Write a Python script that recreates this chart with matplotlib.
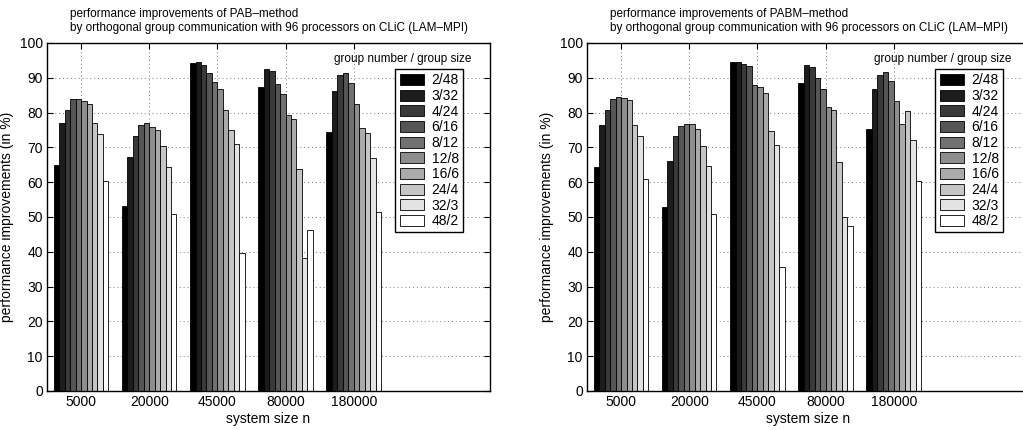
import matplotlib
matplotlib.use("Agg")
import matplotlib.pyplot as plt
import numpy as np

plt.rcParams["font.family"] = ["Liberation Sans", "DejaVu Sans"]

# system sizes on the x axis
sizes = ["5000", "20000", "45000", "80000", "180000"]

# group number / group size configurations (one bar per configuration)
groups = ["2/48", "3/32", "4/24", "6/16", "8/12", "12/8", "16/6", "24/4", "32/3", "48/2"]

# improvements in % for PAB, rows = system size, columns = configuration
pab = [
    [64.8, 77.0, 80.8, 84.0, 84.0, 83.2, 82.5, 77.0, 73.8, 60.3],
    [53.3, 67.1, 73.2, 76.4, 77.0, 76.0, 75.0, 70.5, 64.5, 51.0],
    [94.2, 94.5, 93.8, 91.5, 88.7, 86.7, 80.7, 75.1, 71.0, 39.6],
    [87.4, 92.4, 92.0, 88.3, 85.3, 79.4, 78.1, 63.9, 38.1, 46.4],
    [74.5, 86.1, 90.8, 91.4, 88.6, 82.4, 75.7, 74.1, 67.0, 51.4],
]

# improvements in % for PABM
pabm = [
    [64.3, 76.4, 80.7, 84.0, 84.6, 84.3, 83.5, 76.5, 73.4, 61.0],
    [52.9, 66.2, 73.3, 76.1, 76.8, 76.8, 75.3, 70.3, 64.6, 51.0],
    [94.5, 94.6, 93.9, 93.3, 88.0, 87.5, 85.7, 74.7, 70.8, 35.6],
    [88.5, 93.6, 93.1, 89.9, 86.9, 81.7, 80.8, 65.9, 50.0, 47.4],
    [75.4, 86.7, 90.9, 91.7, 89.0, 83.2, 76.7, 80.4, 72.0, 60.3],
]

titles = ["performance improvements of PAB\u2013method\n"
          "by orthogonal group communication with 96 processors on CLiC (LAM\u2013MPI)",
          "performance improvements of PABM\u2013method\n"
          "by orthogonal group communication with 96 processors on CLiC (LAM\u2013MPI)"]

W, H = 1023, 430
fig = plt.figure(figsize=(W / 100, H / 100), dpi=100)

# gray(10) colormap, black to white
shades = [str(v) for v in np.linspace(0, 1, len(groups))]

def draw(ax, data, title):
    data = np.array(data)
    x = np.arange(1, len(sizes) + 1)
    n = len(groups)
    w = 0.8 / n
    for j in range(n):
        ax.bar(x - 0.4 + w * (j + 0.5), data[:, j], width=w,
               color=shades[j], edgecolor="black", linewidth=0.6,
               label=groups[j], zorder=2)
    ax.set_xlim(0.5, 7.0)
    ax.set_ylim(0, 100)
    ax.set_xticks(x)
    ax.set_xticklabels(sizes)
    ax.set_yticks(np.arange(0, 101, 10))
    ax.grid(True, linestyle=(0, (1, 3)), color="#777777", linewidth=0.7, zorder=0)
    ax.set_axisbelow(True)
    ax.tick_params(direction="in", top=True, right=True, length=4, width=0.8,
                   labelsize=10, pad=3)
    for s in ax.spines.values():
        s.set_linewidth(1.0)
    ax.set_xlabel("system size n", fontsize=10, labelpad=2)
    ax.set_ylabel("performance improvements (in %)", fontsize=10, labelpad=4)
    ax.text(0.5, 1.025, title, transform=ax.transAxes, ha="center", va="bottom",
            multialignment="left", fontsize=8.5, linespacing=1.3)
    ax.text(0.959, 0.955, "group number / group size", transform=ax.transAxes,
            ha="right", va="center", fontsize=8.5)
    ax.legend(loc="upper right", bbox_to_anchor=(0.939, 0.925), borderaxespad=0,
              fontsize=10, handlelength=1.75, handleheight=0.85, handletextpad=0.55,
              labelspacing=0.12, borderpad=0.3, fancybox=False,
              edgecolor="black", framealpha=1)

ax_w = 443 / W
ax_h = 348 / H
bottom = (H - 391) / H
ax1 = fig.add_axes([47 / W, bottom, ax_w, ax_h])
ax2 = fig.add_axes([587 / W, bottom, ax_w, ax_h])
draw(ax1, pab, titles[0])
draw(ax2, pabm, titles[1])

fig.savefig("out.png", dpi=100)
